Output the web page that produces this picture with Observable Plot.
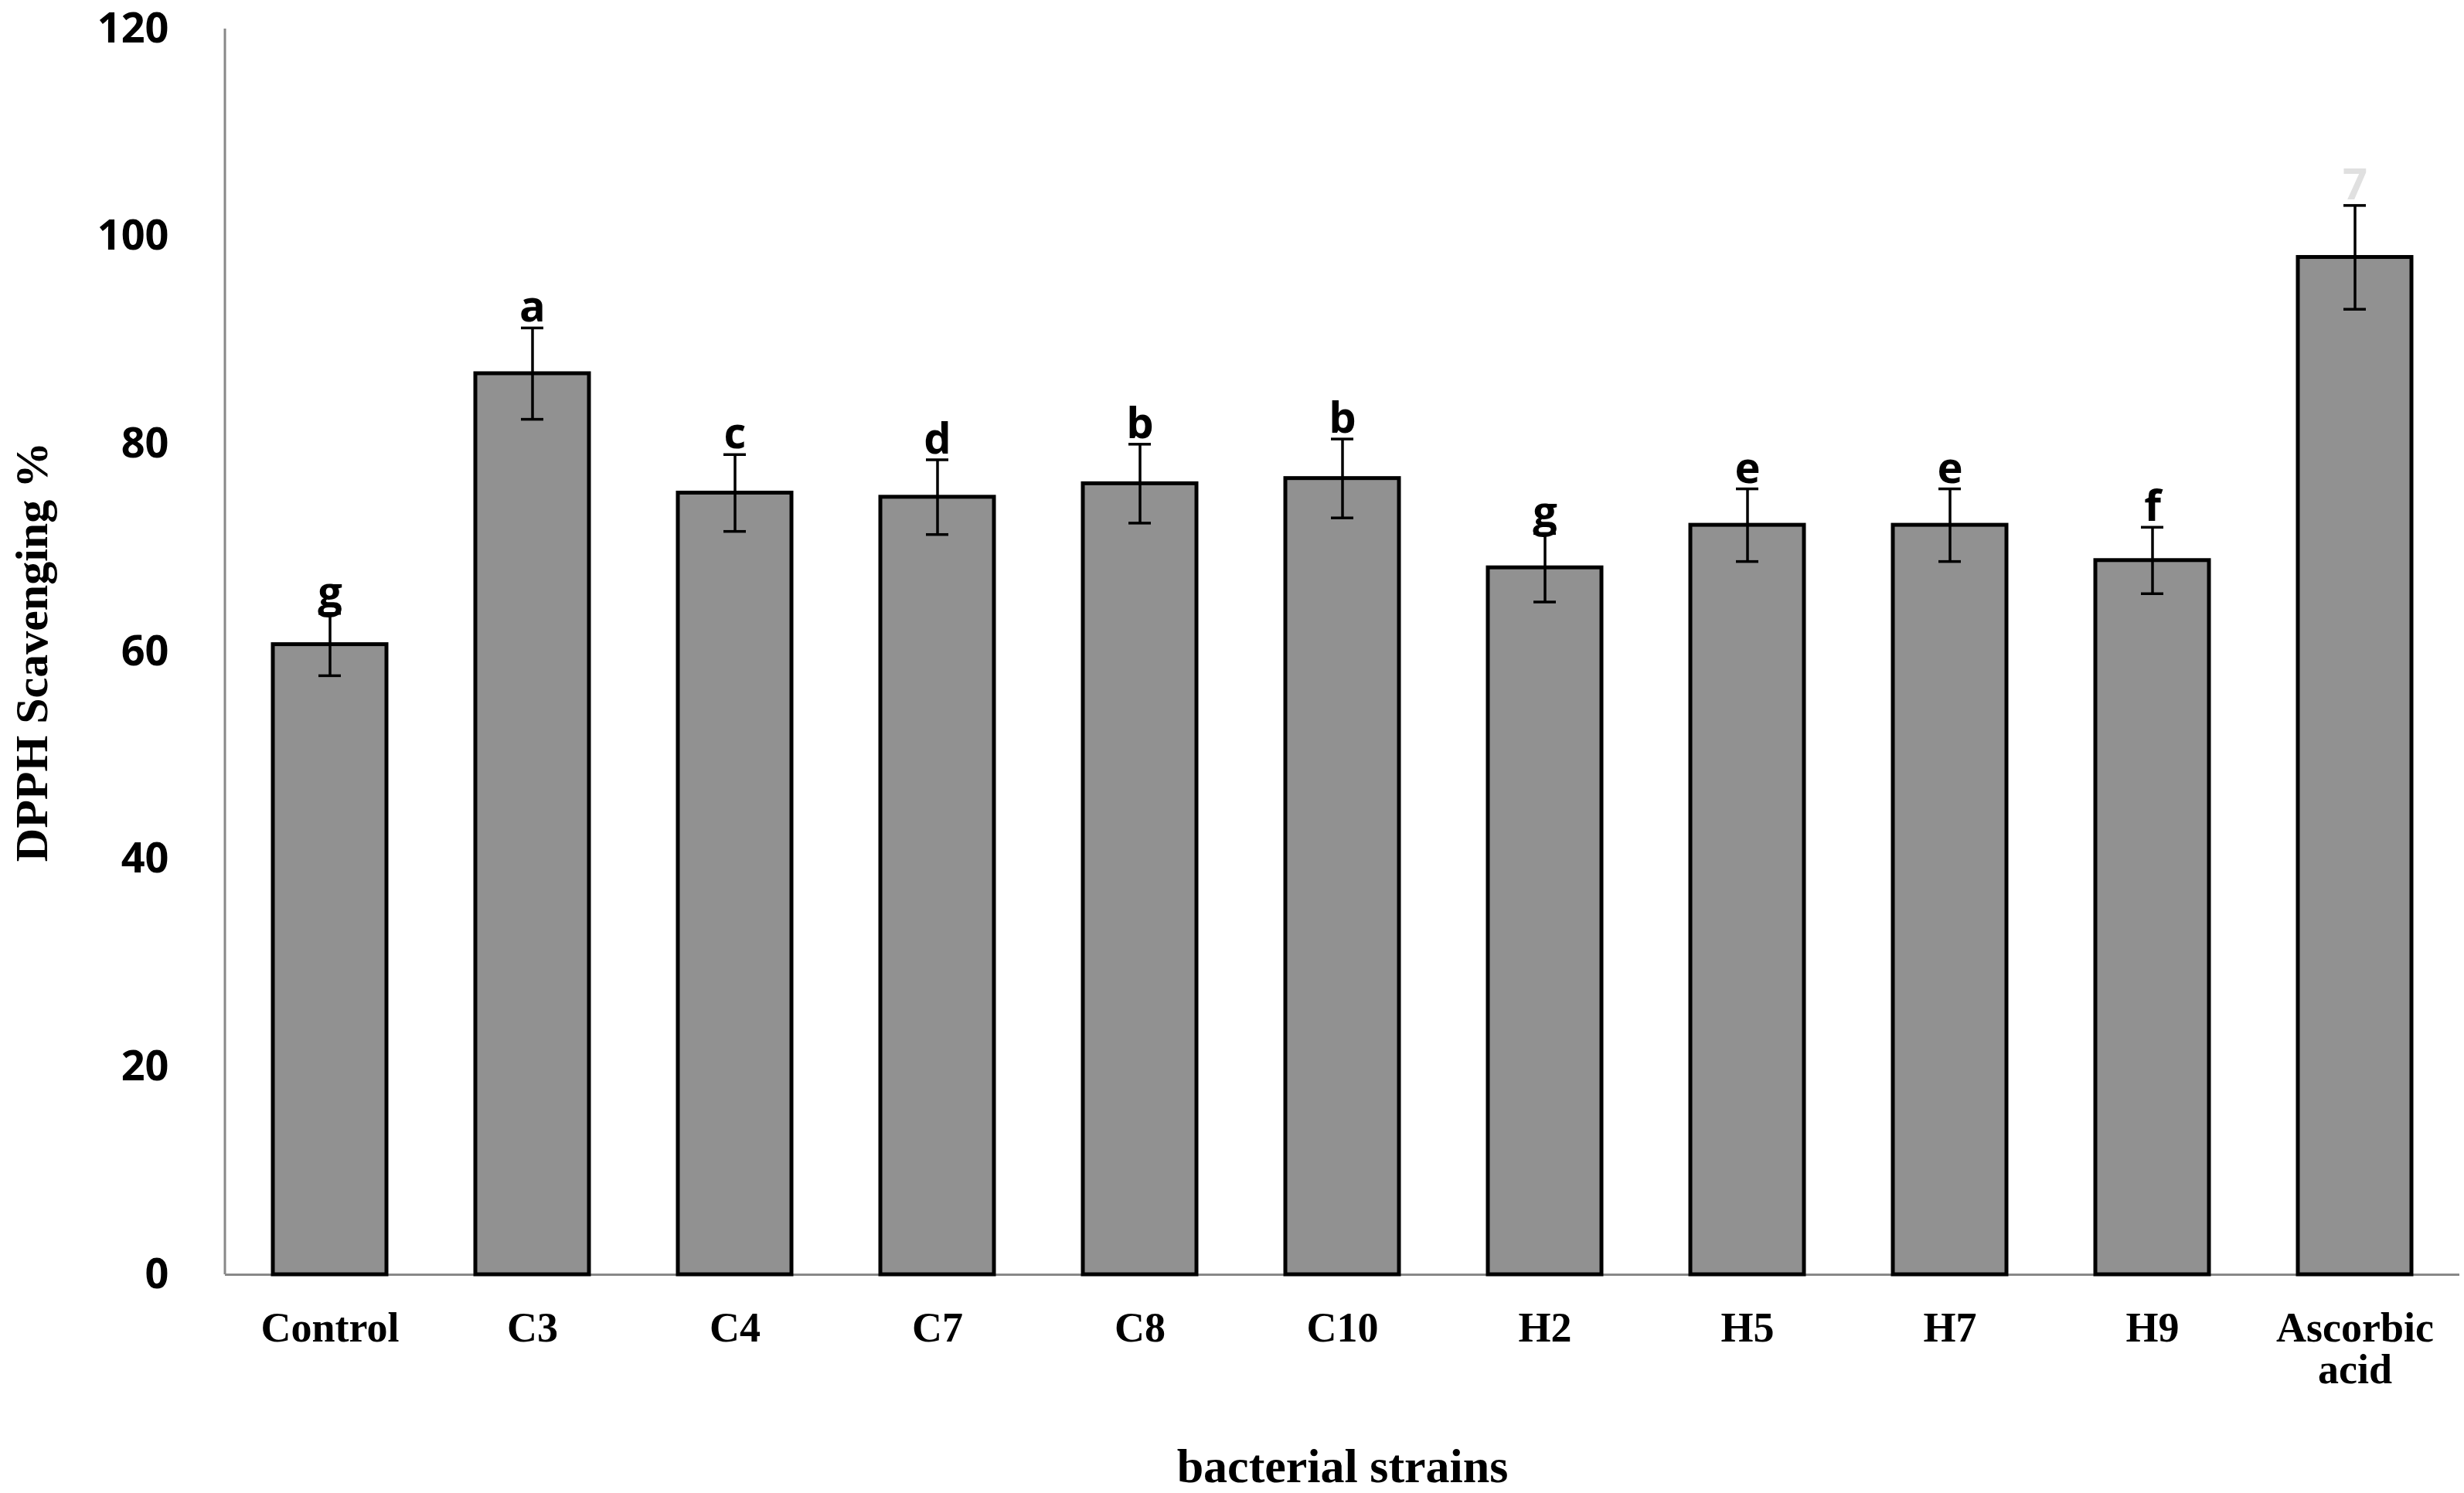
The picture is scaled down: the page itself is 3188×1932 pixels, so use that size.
<!DOCTYPE html>
<html><head><meta charset="utf-8">
<script src="https://cdn.jsdelivr.net/npm/d3@7"></script>
<script src="https://cdn.jsdelivr.net/npm/@observablehq/plot@0.6"></script>
<style>body{margin:0;background:#fff}</style>
</head><body><div id="c"></div>
<script>
const strains = ["Control","C3","C4","C7","C8","C10","H2","H5","H7","H9","Ascorbic acid"];
const values = [60.7,86.8,75.3,74.9,76.2,76.7,68.1,72.2,72.2,68.8,98.0];
const errors = [3.0,4.4,3.7,3.6,3.8,3.8,3.3,3.5,3.5,3.2,5.0];
const letters = ["g","a","c","d","b","b","g","e","e","f","7"];
const yTicks = [0,20,40,60,80,100,120];
const data = strains.map((s,i)=>({s,v:values[i],e:errors[i],l:letters[i]}));
const chart = Plot.plot({
  width:3188, height:1932,
  marginLeft:291, marginRight:6, marginTop:37, marginBottom:283,
  style:{fontFamily:"'Open Sans',sans-serif", background:"#fff"},
  x:{domain:strains, paddingInner:0.44, paddingOuter:0.22, label:null},
  y:{domain:[0,120], label:null},
  marks:[
    Plot.ruleY([0],{stroke:"#888",strokeWidth:3}),
    Plot.axisY({ticks:yTicks, tickSize:0, tickPadding:73, fontSize:54, fontWeight:"bold", fill:"#000"}),
    Plot.axisX({tickSize:0, tickPadding:48, fontSize:54, fontWeight:"bold", lineAnchor:"top",
      fontFamily:"'Liberation Serif','Times New Roman',serif", tickFormat:d=>d==="Ascorbic acid"?"Ascorbic\nacid":d}),
    Plot.barY(data,{x:"s",y:"v",fill:"#919191",stroke:"#000",strokeWidth:5}),
    Plot.ruleX(data,{x:"s",y1:d=>d.v-d.e,y2:d=>d.v+d.e,stroke:"#000",strokeWidth:3.5}),
    Plot.tickY(data,{x:"s",y:d=>d.v+d.e,stroke:"#000",strokeWidth:3.5,insetLeft:59,insetRight:59}),
    Plot.tickY(data,{x:"s",y:d=>d.v-d.e,stroke:"#000",strokeWidth:3.5,insetLeft:59,insetRight:59}),
    Plot.text(data,{x:"s",y:d=>d.v+d.e,text:"l",lineAnchor:"bottom",dy:-8,fontSize:56,fontWeight:"bold",
      fill:d=>d.l==="7"?"#e0e0e0":"#000"}),
    Plot.text(["DPPH Scavenging %"],{frameAnchor:"left",dx:-250,rotate:-90,textAnchor:"middle",fontSize:60,fontWeight:"bold",
      fontFamily:"'Liberation Serif','Times New Roman',serif",fill:"#000"}),
    Plot.text(["bacterial strains"],{frameAnchor:"bottom",dy:268,fontSize:62,fontWeight:"bold",
      fontFamily:"'Liberation Serif','Times New Roman',serif",fill:"#000"})
  ]
});
document.getElementById("c").append(chart);
const svg = d3.select(chart);
svg.append("line").attr("x1",291).attr("x2",291).attr("y1",37).attr("y2",1649).attr("stroke","#888").attr("stroke-width",3);
</script></body></html>
